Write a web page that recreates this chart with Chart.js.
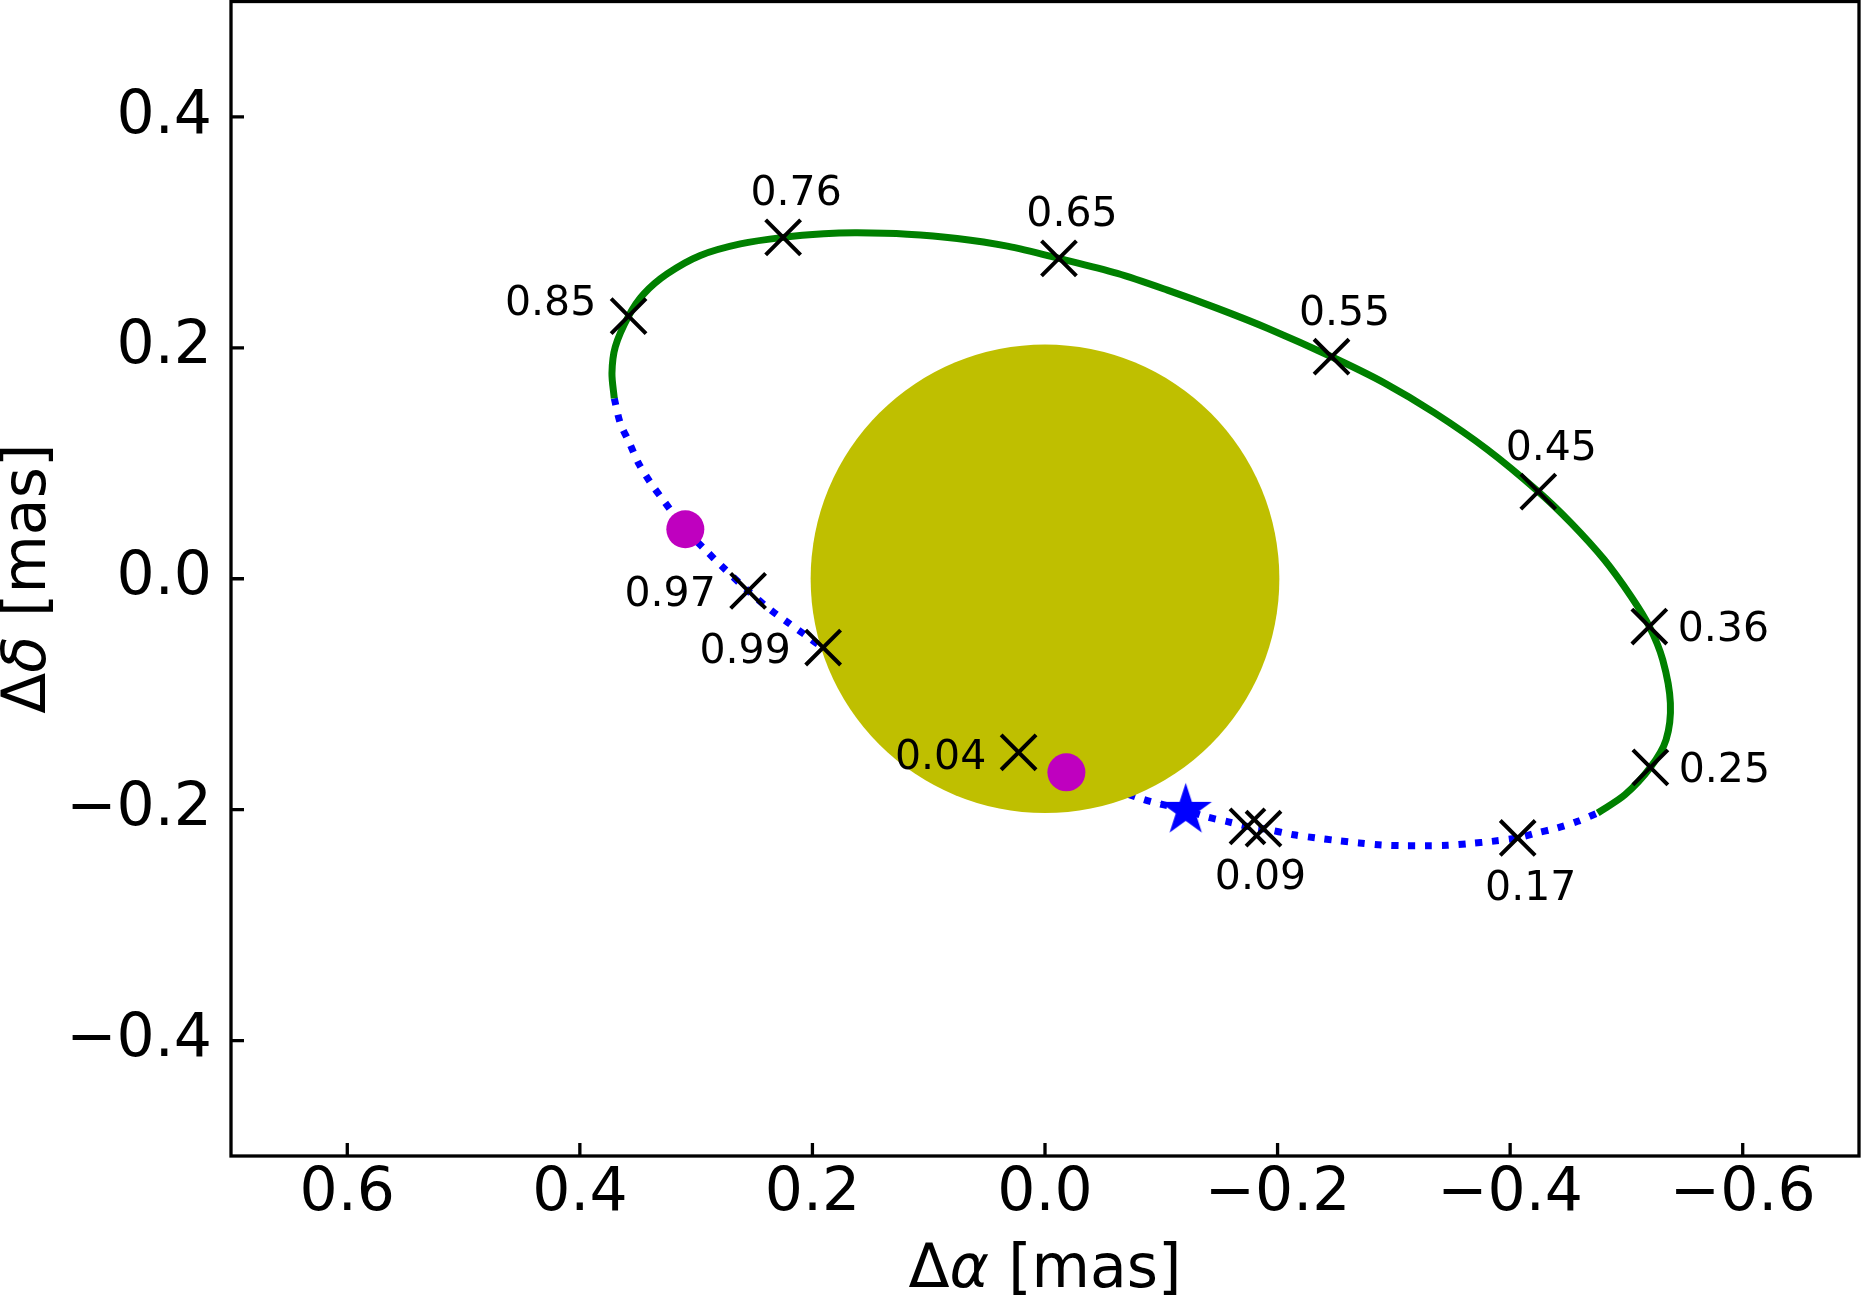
<!DOCTYPE html>
<html>
<head>
<meta charset="utf-8">
<script src="https://cdn.jsdelivr.net/npm/chart.js@4.4.1/dist/chart.umd.min.js"></script>
<style>
  html, body { margin: 0; padding: 0; background: #fff; }
  #wrap { width: 1861px; height: 1295px; }
</style>
</head>
<body>
<div id="wrap"><canvas id="orbit" width="1861" height="1295"></canvas></div>
<script>
// ---------------- Data ----------------
const xTicks = [0.6, 0.4, 0.2, 0.0, -0.2, -0.4, -0.6];
const yTicks = [0.4, 0.2, 0.0, -0.2, -0.4];

// orbit, solid part (phase ~0.20 -> ~0.90)
const orbitSolidX = [-0.4753, -0.4988, -0.5206, -0.5341, -0.5378, -0.5312, -0.5197, -0.5040, -0.4810, -0.4523,
  -0.4242, -0.3806, -0.3347, -0.2917, -0.2464, -0.1913, -0.1483, -0.1053, -0.0622, -0.0120,
  0.0324, 0.0755, 0.1185, 0.1615, 0.1903, 0.2252, 0.2620, 0.2964, 0.3250, 0.3452,
  0.3581, 0.3695, 0.3724, 0.3704];
const orbitSolidY = [-0.2029, -0.1870, -0.1634, -0.1394, -0.1077, -0.0702, -0.0414, -0.0154, 0.0164, 0.0484,
  0.0755, 0.1118, 0.1439, 0.1697, 0.1923, 0.2170, 0.2342, 0.2500, 0.2645, 0.2775,
  0.2881, 0.2948, 0.2985, 0.2996, 0.2988, 0.2957, 0.2900, 0.2800, 0.2640, 0.2465,
  0.2275, 0.2010, 0.1780, 0.1563];

// orbit, dotted part (phase ~0.90 -> ~0.20)
const orbitDottedX = [0.3704, 0.3652, 0.3572, 0.3495, 0.3394, 0.3280, 0.3093, 0.2921, 0.2783, 0.2553,
  0.2361, 0.2204, 0.2052, 0.1908, 0.0227, -0.0184, -0.0837, -0.1210, -0.1391, -0.1569,
  -0.1741, -0.1879, -0.2137, -0.2329, -0.2516, -0.2701, -0.2894, -0.3084, -0.3275, -0.3462,
  -0.3648, -0.3841, -0.4065, -0.4207, -0.4403, -0.4581, -0.4753];
const orbitDottedY = [0.1563, 0.1347, 0.1174, 0.1000, 0.0834, 0.0677, 0.0429, 0.0250, 0.0112, -0.0105,
  -0.0269, -0.0384, -0.0494, -0.0596, -0.1503, -0.1677, -0.1908, -0.2006, -0.2063, -0.2104,
  -0.2145, -0.2165, -0.2217, -0.2245, -0.2268, -0.2288, -0.2306, -0.2312, -0.2312, -0.2309,
  -0.2294, -0.2275, -0.2245, -0.2208, -0.2159, -0.2101, -0.2029];

// observation epochs (phase)
const epochX = [0.0227, -0.1741, -0.1879, -0.4065, -0.5206, -0.5197, -0.4242, -0.2464, -0.0120, 0.2252, 0.3581, 0.2553, 0.1908];
const epochY = [-0.1503, -0.2145, -0.2165, -0.2245, -0.1634, -0.0414, 0.0755, 0.1923, 0.2775, 0.2957, 0.2275, -0.0105, -0.0596];
const epochLabels = ["0.04", "0.09", "", "0.17", "0.25", "0.36", "0.45", "0.55", "0.65", "0.76", "0.85", "0.97", "0.99"];

const dotX = [0.3093, -0.0184];
const dotY = [0.0429, -0.1677];
const starX = [-0.1210];
const starY = [-0.2006];
const diskX = [0.0];
const diskY = [0.0];
const diskRadius = 0.203;

// label placement next to each epoch marker (px)
const labelOffsets = [[-78, 2], [13, 48], [0, 0], [13, 47], [74, 0], [74, 0], [13, -47],
  [13, -47], [13, -47], [13, -47], [-78, -16], [-78, 0], [-78, 0]];

// ---------------- Helpers ----------------
const pts = (xs, ys) => xs.map((x, i) => ({ x: x, y: ys[i] }));
const fmt = (v) => (Math.abs(v) < 1e-9 ? "0.0" : v.toFixed(1).replace("-", "\u2212"));
const FONT = "'DejaVu Sans', sans-serif";

function makeStar(R, color) {
  const c = document.createElement("canvas");
  const s = Math.ceil(R * 2 + 4);
  c.width = s;
  c.height = s;
  const g = c.getContext("2d");
  g.fillStyle = color;
  g.beginPath();
  for (let k = 0; k < 10; k++) {
    const r = k % 2 ? R * 0.382 : R;
    const a = -Math.PI / 2 + (k * Math.PI) / 5;
    g.lineTo(s / 2 + r * Math.cos(a), s / 2 + r * Math.sin(a));
  }
  g.closePath();
  g.fill();
  return c;
}

function drawMixed(c, parts, size) {
  let w = 0;
  parts.forEach((p) => {
    c.font = (p.it ? "italic " : "") + size + "px " + FONT;
    p.w = c.measureText(p.t).width;
    w += p.w;
  });
  let x = -w / 2;
  parts.forEach((p) => {
    c.font = (p.it ? "italic " : "") + size + "px " + FONT;
    c.fillText(p.t, x, 0);
    x += p.w;
  });
}

// ---------------- Plugins ----------------
const frame = {
  id: "frame",
  afterDraw(chart) {
    const c = chart.ctx, a = chart.chartArea;
    const xs = chart.scales.x, ys = chart.scales.y;
    c.save();
    c.strokeStyle = "#000";
    c.lineWidth = 3.3;
    c.strokeRect(a.left, a.top, a.right - a.left, a.bottom - a.top);
    // inward ticks
    c.beginPath();
    xTicks.forEach((v) => {
      const px = xs.getPixelForValue(v);
      c.moveTo(px, a.bottom);
      c.lineTo(px, a.bottom - 13);
    });
    yTicks.forEach((v) => {
      const py = ys.getPixelForValue(v);
      c.moveTo(a.left, py);
      c.lineTo(a.left + 13, py);
    });
    c.stroke();
    // axis titles
    c.fillStyle = "#000";
    c.textAlign = "left";
    c.textBaseline = "alphabetic";
    c.save();
    c.translate((a.left + a.right) / 2, 1286.5);
    drawMixed(c, [{ t: "\u0394" }, { t: "\u03b1", it: true }, { t: " [mas]" }], 60);
    c.restore();
    c.save();
    c.translate(45, (a.top + a.bottom) / 2);
    c.rotate(-Math.PI / 2);
    drawMixed(c, [{ t: "\u0394" }, { t: "\u03b4", it: true }, { t: " [mas]" }], 60);
    c.restore();
    c.restore();
  },
};

const epochText = {
  id: "epochText",
  afterDatasetsDraw(chart) {
    const c = chart.ctx, xs = chart.scales.x, ys = chart.scales.y;
    c.save();
    c.font = "41px " + FONT;
    c.fillStyle = "#000";
    c.textAlign = "center";
    c.textBaseline = "alphabetic";
    epochLabels.forEach((t, i) => {
      if (!t) return;
      const off = labelOffsets[i];
      c.fillText(t, xs.getPixelForValue(epochX[i]) + off[0], ys.getPixelForValue(epochY[i]) + off[1] + 0.3645 * 41);
    });
    c.restore();
  },
};

// ---------------- Chart ----------------
Chart.defaults.font.family = FONT;
const ctx = document.getElementById("orbit").getContext("2d");

const chart = new Chart(ctx, {
  type: "scatter",
  data: {
    datasets: [
      {
        label: "epochs",
        data: pts(epochX, epochY),
        pointStyle: "crossRot",
        pointRadius: 24.7,
        borderColor: "#000000",
        borderWidth: 4,
        order: 0,
      },
      {
        label: "positions",
        data: pts(dotX, dotY),
        pointStyle: "circle",
        pointRadius: 19,
        backgroundColor: "#bf00bf",
        borderWidth: 0,
        order: 1,
      },
      {
        label: "periastron",
        data: pts(starX, starY),
        pointStyle: makeStar(27.5, "#0000ff"),
        pointRadius: 28,
        order: 2,
      },
      {
        label: "disk",
        data: pts(diskX, diskY),
        pointStyle: "circle",
        pointRadius: (c) => {
          const y = c.chart.scales.y;
          return Math.abs(y.getPixelForValue(diskRadius) - y.getPixelForValue(0));
        },
        backgroundColor: "#bfbf00",
        borderWidth: 0,
        order: 3,
      },
      {
        label: "orbit",
        data: pts(orbitSolidX, orbitSolidY),
        showLine: true,
        pointRadius: 0,
        borderColor: "#008000",
        borderWidth: 7,
        tension: 0.3,
        order: 4,
      },
      {
        label: "orbit (dotted)",
        data: pts(orbitDottedX, orbitDottedY),
        showLine: true,
        pointRadius: 0,
        borderColor: "#0000ff",
        borderWidth: 7,
        borderDash: [7, 9.8],
        borderCapStyle: "butt",
        tension: 0.3,
        order: 5,
      },
    ],
  },
  options: {
    responsive: false,
    animation: false,
    events: [],
    layout: { autoPadding: false, padding: { top: 1.5, right: 2, bottom: 0, left: 0 } },
    plugins: { legend: { display: false }, tooltip: { enabled: false } },
    scales: {
      x: {
        type: "linear",
        reverse: true,
        min: -0.7,
        max: 0.7,
        afterBuildTicks: (s) => { s.ticks = xTicks.map((v) => ({ value: v })); },
        afterFit: (s) => { s.height = 139; s.paddingLeft = 0; s.paddingRight = 0; },
        grid: { display: false, drawTicks: false },
        border: { display: false },
        ticks: { color: "#000", font: { size: 60 }, padding: 2, maxRotation: 0, autoSkip: false, callback: fmt },
      },
      y: {
        type: "linear",
        min: -0.5,
        max: 0.5,
        afterBuildTicks: (s) => { s.ticks = yTicks.map((v) => ({ value: v })); },
        afterFit: (s) => { s.width = 231; s.paddingTop = 0; s.paddingBottom = 0; },
        grid: { display: false, drawTicks: false },
        border: { display: false },
        ticks: { color: "#000", font: { size: 60 }, padding: 19, autoSkip: false, callback: fmt },
      },
    },
  },
  plugins: [epochText, frame],
});
</script>
</body>
</html>
